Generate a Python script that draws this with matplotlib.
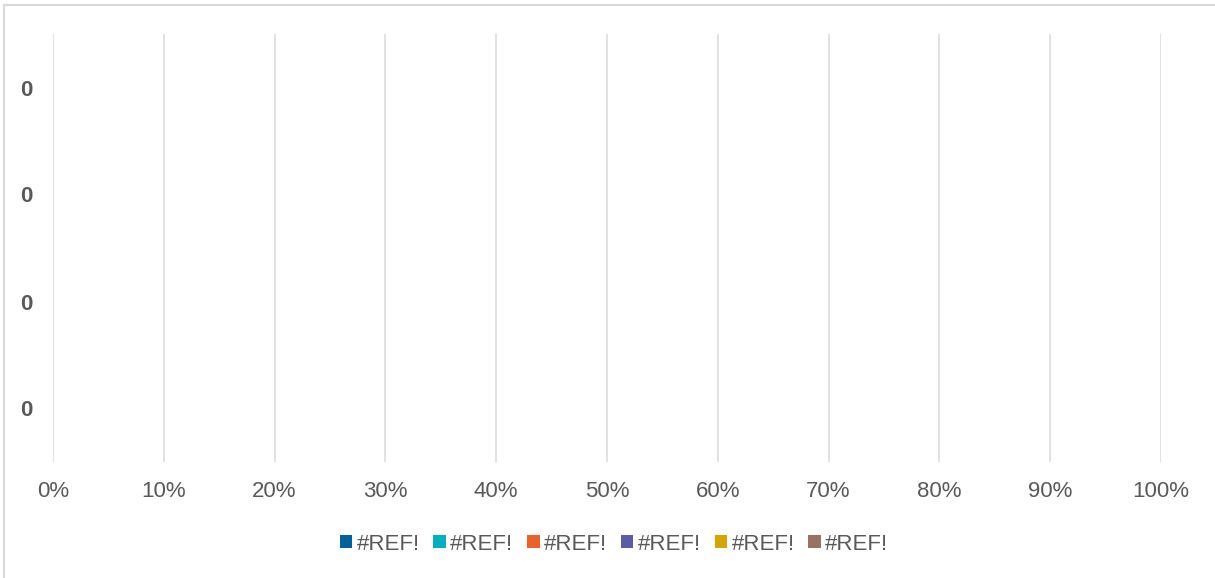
import matplotlib
matplotlib.use("Agg")
import matplotlib.pyplot as plt
from matplotlib.lines import Line2D
from matplotlib.ticker import PercentFormatter
import numpy as np

plt.rcParams["font.family"] = ["Liberation Sans", "DejaVu Sans"]

# Data: broken-reference chart, every series is empty
categories = ["0", "0", "0", "0"]
series_names = ["#REF!", "#REF!", "#REF!", "#REF!", "#REF!", "#REF!"]
series_values = [
    [0, 0, 0, 0],
    [0, 0, 0, 0],
    [0, 0, 0, 0],
    [0, 0, 0, 0],
    [0, 0, 0, 0],
    [0, 0, 0, 0],
]
colors = ["#00629B", "#00B0BE", "#E8622A", "#5B5BA8", "#D4A600", "#977363"]
xticks = np.arange(0, 1.01, 0.1)

W, H = 1215, 578
fig = plt.figure(figsize=(W / 100, H / 100), dpi=100)
ax = fig.add_axes([53 / W, 1 - 462 / H, (1161 - 53) / W, (462 - 34) / H])

y = np.arange(len(categories))
left = np.zeros(len(categories))
handles = []
for name, vals, c in zip(series_names, series_values, colors):
    vals = np.array(vals, dtype=float)
    b = ax.barh(y, vals, left=left, color=c, height=0.5, label=name)
    left += vals
    handles.append(b)

ax.set_xlim(0, 1)
ax.set_ylim(len(categories) - 0.5, -0.5)
ax.set_xticks(xticks)
ax.xaxis.set_major_formatter(PercentFormatter(1.0, decimals=0))
ax.set_yticks(y)
ax.set_yticklabels(categories, fontweight="bold")
ax.tick_params(axis="x", length=0, pad=14, labelsize=16, labelcolor="#595959")
ax.tick_params(axis="y", length=0, pad=15, labelsize=16, labelcolor="#595959")
ax.grid(axis="x", color="#D9D9D9", linewidth=1.1)
ax.set_axisbelow(True)
for s in ax.spines.values():
    s.set_visible(False)

fig.legend(handles=handles, labels=series_names, loc="center",
           bbox_to_anchor=(614 / W, 1 - 544 / H), ncol=6, frameon=False,
           fontsize=16, labelcolor="#595959", handlelength=0.56,
           handleheight=0.56, handletextpad=0.2, columnspacing=0.62)

# chart frame (only left and top edges are visible)
border = "#D9D9D9"
fig.add_artist(Line2D([4 / W, 4 / W], [0, 1 - 5 / H], color=border, lw=1.5,
                      transform=fig.transFigure))
fig.add_artist(Line2D([4 / W, 1], [1 - 5 / H, 1 - 5 / H], color=border, lw=1.5,
                      transform=fig.transFigure))

fig.savefig("out.png", dpi=100)
